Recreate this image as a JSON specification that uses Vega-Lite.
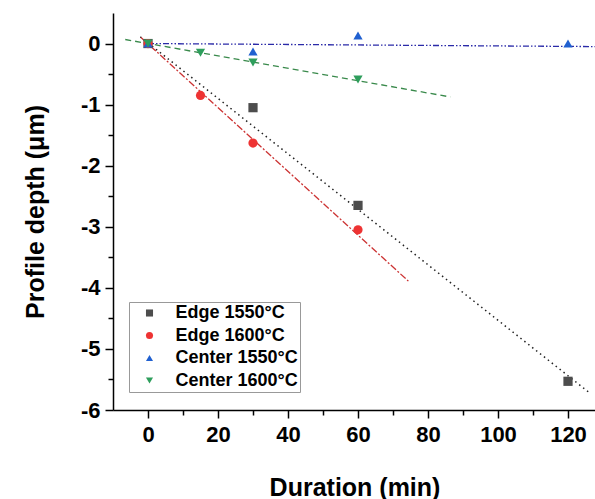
{
  "$schema": "https://vega.github.io/schema/vega-lite/v6.json",
  "width": 483,
  "height": 397,
  "autosize": {"type": "none"},
  "padding": {"left": 113, "top": 13, "right": 0, "bottom": 89},
  "background": "white",
  "config": {
    "view": {"stroke": null},
    "font": "Liberation Sans"
  },
  "datasets": {
    "points": [
      {"series": "Edge 1550°C", "t": 0, "depth": 0},
      {"series": "Edge 1550°C", "t": 30, "depth": -1.05},
      {"series": "Edge 1550°C", "t": 60, "depth": -2.65},
      {"series": "Edge 1550°C", "t": 120, "depth": -5.53},
      {"series": "Edge 1600°C", "t": 0, "depth": 0},
      {"series": "Edge 1600°C", "t": 15, "depth": -0.85},
      {"series": "Edge 1600°C", "t": 30, "depth": -1.63},
      {"series": "Edge 1600°C", "t": 60, "depth": -3.05},
      {"series": "Center 1550°C", "t": 0, "depth": 0},
      {"series": "Center 1550°C", "t": 30, "depth": -0.13},
      {"series": "Center 1550°C", "t": 60, "depth": 0.13},
      {"series": "Center 1550°C", "t": 120, "depth": 0.0},
      {"series": "Center 1600°C", "t": 0, "depth": 0},
      {"series": "Center 1600°C", "t": 15, "depth": -0.15},
      {"series": "Center 1600°C", "t": 30, "depth": -0.31},
      {"series": "Center 1600°C", "t": 60, "depth": -0.59}
    ],
    "fits": [
      {"series": "Edge 1550°C", "t": -2.2, "depth": 0.11},
      {"series": "Edge 1550°C", "t": 126.4, "depth": -5.73},
      {"series": "Edge 1600°C", "t": -2, "depth": 0.1},
      {"series": "Edge 1600°C", "t": 74.4, "depth": -3.89},
      {"series": "Center 1550°C", "t": 0, "depth": 0},
      {"series": "Center 1550°C", "t": 128, "depth": -0.05},
      {"series": "Center 1600°C", "t": -6.5, "depth": 0.066},
      {"series": "Center 1600°C", "t": 86.4, "depth": -0.875}
    ]
  },
  "resolve": {"axis": {"x": "independent", "y": "independent"}},
  "layer": [
    {
      "data": {"name": "fits"},
      "encoding": {
        "x": {
          "field": "t", "type": "quantitative",
          "scale": {"domain": [-10, 128], "nice": false, "zero": false},
          "axis": {"orient": "bottom", "values": [10, 30, 50, 70, 90, 110], "labels": false, "domain": false, "grid": false, "title": null, "tickSize": 5, "tickWidth": 1.5, "tickColor": "black"}
        },
        "y": {
          "field": "depth", "type": "quantitative",
          "scale": {"domain": [-6, 0.5], "nice": false, "zero": false},
          "axis": {"orient": "left", "values": [-5.5, -4.5, -3.5, -2.5, -1.5, -0.5], "labels": false, "domain": false, "grid": false, "title": null, "tickSize": 5, "tickWidth": 1.5, "tickColor": "black"}
        }
      },
      "layer": [
        {
          "transform": [{"filter": "datum.series === 'Edge 1550°C'"}],
          "mark": {"type": "line", "color": "#222222", "strokeWidth": 1.5, "strokeDash": [1.5, 3.5]}
        },
        {
          "transform": [{"filter": "datum.series === 'Edge 1600°C'"}],
          "mark": {"type": "line", "color": "#cc3333", "strokeWidth": 1.3, "strokeDash": [7, 2, 2, 2]}
        },
        {
          "transform": [{"filter": "datum.series === 'Center 1550°C'"}],
          "mark": {"type": "line", "color": "#2a2aa8", "strokeWidth": 1.3, "strokeDash": [6, 2, 1.5, 2, 1.5, 2]}
        },
        {
          "transform": [{"filter": "datum.series === 'Center 1600°C'"}],
          "mark": {"type": "line", "color": "#3a8a4c", "strokeWidth": 1.3, "strokeDash": [6, 4]}
        }
      ]
    },
    {
      "data": {"name": "points"},
      "mark": {"type": "point", "filled": true, "opacity": 1, "size": 85},
      "encoding": {
        "x": {
          "field": "t", "type": "quantitative",
          "scale": {"domain": [-10, 128], "nice": false, "zero": false},
          "axis": {
            "orient": "bottom", "values": [0, 20, 40, 60, 80, 100, 120], "grid": false,
            "title": "Duration (min)",
            "domainColor": "black", "domainWidth": 1.5,
            "tickColor": "black", "tickWidth": 1.5, "tickSize": 8,
            "labelFontSize": 22, "labelFontWeight": "bold", "labelColor": "black", "labelPadding": 6, "labelFlush": false,
            "titleFontSize": 25, "titleFontWeight": "bold", "titleColor": "black", "titlePadding": 30
          }
        },
        "y": {
          "field": "depth", "type": "quantitative",
          "scale": {"domain": [-6, 0.5], "nice": false, "zero": false},
          "axis": {
            "orient": "left", "values": [-6, -5, -4, -3, -2, -1, 0], "grid": false,
            "title": "Profile depth (μm)",
            "labelExpr": "'' + datum.value",
            "domainColor": "black", "domainWidth": 1.5,
            "tickColor": "black", "tickWidth": 1.5, "tickSize": 8,
            "labelFontSize": 22, "labelFontWeight": "bold", "labelColor": "black", "labelPadding": 5, "labelFlush": false,
            "titleFontSize": 25, "titleFontWeight": "bold", "titleColor": "black", "titlePadding": 32
          }
        },
        "color": {
          "field": "series", "type": "nominal",
          "scale": {
            "domain": ["Edge 1550°C", "Edge 1600°C", "Center 1550°C", "Center 1600°C"],
            "range": ["#4d4d4d", "#ee3333", "#2060d0", "#2e9e5c"]
          },
          "legend": {
            "title": null, "orient": "none", "legendX": 16, "legendY": 289,
            "fillColor": "white", "strokeColor": "#999999", "padding": 2,
            "labelFontSize": 18, "labelFontWeight": "bold", "labelColor": "black",
            "rowPadding": 4.5, "symbolSize": 50, "symbolStrokeWidth": 0,
            "symbolOffset": 9.5, "labelOffset": 17
          }
        },
        "shape": {
          "field": "series", "type": "nominal",
          "scale": {
            "domain": ["Edge 1550°C", "Edge 1600°C", "Center 1550°C", "Center 1600°C"],
            "range": ["square", "circle", "triangle-up", "triangle-down"]
          },
          "legend": {
            "title": null, "orient": "none", "legendX": 16, "legendY": 289,
            "fillColor": "white", "strokeColor": "#999999", "padding": 2,
            "labelFontSize": 18, "labelFontWeight": "bold", "labelColor": "black",
            "rowPadding": 4.5, "symbolSize": 50, "symbolStrokeWidth": 0,
            "symbolOffset": 9.5, "labelOffset": 17
          }
        }
      }
    }
  ]
}
